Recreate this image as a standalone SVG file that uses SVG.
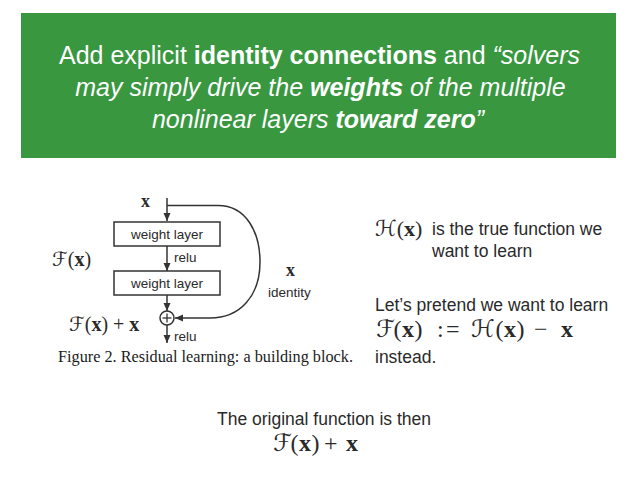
<svg xmlns="http://www.w3.org/2000/svg" width="638" height="479" viewBox="0 0 638 479">
  <style>
    .hd { font-family: "Liberation Sans", Arial, sans-serif; font-size: 25px; fill: #ffffff; text-anchor: middle; font-weight: 300; }
    .b { font-weight: bold; }
    .i { font-style: italic; }
    .box { fill: #ffffff; stroke: #333333; stroke-width: 1.5; }
    .lbl { font-family: "Liberation Sans", Arial, sans-serif; font-size: 13.5px; fill: #2a2a2a; }
    .math { font-family: "Liberation Serif", "DejaVu Serif", serif; fill: #2a2a2a; }
    .cal { font-family: "DejaVu Serif", "DejaVu Sans", serif; font-style: italic; }
    .bx { font-weight: bold; }
    .body { font-family: "Liberation Sans", Arial, sans-serif; font-size: 17.5px; fill: #2a2a2a; }
    .cap { font-family: "Liberation Serif", "Times New Roman", serif; font-size: 16px; fill: #1a1a1a; }
    .conn { fill: none; stroke: #333333; stroke-width: 1.5; }
  </style>
  <defs>
    <marker id="arr" markerUnits="userSpaceOnUse" markerWidth="8" markerHeight="8" viewBox="0 0 8 8" refX="8" refY="4" orient="auto">
      <path d="M0,0.5 L8,4 L0,7.5 Z" fill="#333333"/>
    </marker>
  </defs>

  <g id="header">
    <rect x="21" y="13" width="595" height="145" fill="#38973f"/>
    <text class="hd" x="319.5" y="64">Add explicit <tspan class="b">identity connections</tspan> and <tspan class="i">“solvers</tspan></text>
    <text class="hd i" x="320.5" y="96">may simply drive the <tspan class="b">weights</tspan> of the multiple</text>
    <text class="hd i" x="318" y="128">nonlinear layers <tspan class="b">toward zero</tspan>”</text>
  </g>

  <g id="connectors">
    <line class="conn" x1="167" y1="198" x2="167" y2="221" marker-end="url(#arr)"/>
    <line class="conn" x1="167" y1="246" x2="167" y2="271" marker-end="url(#arr)"/>
    <line class="conn" x1="167" y1="295" x2="167" y2="311" marker-end="url(#arr)"/>
    <line class="conn" x1="167" y1="325" x2="167" y2="343" marker-end="url(#arr)"/>
    <path class="conn" d="M167,205.5 H218 C246,205.5 260,232 260,262 C260,296 240,318 210,318 H175" marker-end="url(#arr)"/>
  </g>

  <g id="weight-layer-1">
    <rect class="box" x="114" y="222" width="106" height="24"/>
    <text class="lbl" x="167" y="238.5" text-anchor="middle">weight layer</text>
  </g>
  <g id="weight-layer-2">
    <rect class="box" x="114" y="271" width="106" height="24"/>
    <text class="lbl" x="167" y="287.5" text-anchor="middle">weight layer</text>
  </g>
  <g id="add-node">
    <circle cx="167" cy="318" r="7" fill="#ffffff" stroke="#333333" stroke-width="1.5"/>
    <line x1="162.5" y1="318" x2="171.5" y2="318" stroke="#333333" stroke-width="1.3"/>
    <line x1="167" y1="313.5" x2="167" y2="322.5" stroke="#333333" stroke-width="1.3"/>
  </g>

  <g id="figure-labels">
    <text class="math bx" x="141" y="207" font-size="18">x</text>
    <text class="lbl" x="174" y="262">relu</text>
    <text class="lbl" x="174" y="341">relu</text>
    <text class="math bx" x="286" y="276" font-size="18">x</text>
    <text class="lbl" x="268" y="297" font-size="16">identity</text>
    <text class="math" x="52" y="266" font-size="20"><tspan class="cal">ℱ</tspan>(<tspan class="bx">x</tspan>)</text>
    <text class="math" x="69" y="331" font-size="20"><tspan class="cal">ℱ</tspan>(<tspan class="bx">x</tspan>) + <tspan class="bx">x</tspan></text>
    <text class="cap" x="58" y="362" textLength="295" lengthAdjust="spacingAndGlyphs">Figure 2. Residual learning: a building block.</text>
  </g>

  <g id="right-text">
    <text class="math" x="375" y="236" font-size="22"><tspan class="cal">ℋ</tspan>(<tspan class="bx">x</tspan>)</text>
    <text class="body" x="432" y="235">is the true function we</text>
    <text class="body" x="432" y="257">want to learn</text>
    <text class="body" x="375" y="311">Let’s pretend we want to learn</text>
    <text class="math" y="337" font-size="24"><tspan class="cal" x="376">ℱ</tspan><tspan x="393.5">(</tspan><tspan class="bx" x="402">x</tspan><tspan x="414.5">)</tspan><tspan x="437">:</tspan><tspan x="446">=</tspan><tspan class="cal" x="471">ℋ</tspan><tspan x="495.5">(</tspan><tspan class="bx" x="504">x</tspan><tspan x="516.5">)</tspan><tspan x="534">−</tspan><tspan class="bx" x="561">x</tspan></text>
    <text class="body" x="375" y="363">instead.</text>
  </g>

  <g id="bottom-text">
    <text class="body" x="217" y="425">The original function is then</text>
    <text class="math" y="451" font-size="24"><tspan class="cal" x="273">ℱ</tspan><tspan x="290.5">(</tspan><tspan class="bx" x="299">x</tspan><tspan x="311.5">)</tspan><tspan x="324">+</tspan><tspan class="bx" x="346">x</tspan></text>
  </g>
</svg>
